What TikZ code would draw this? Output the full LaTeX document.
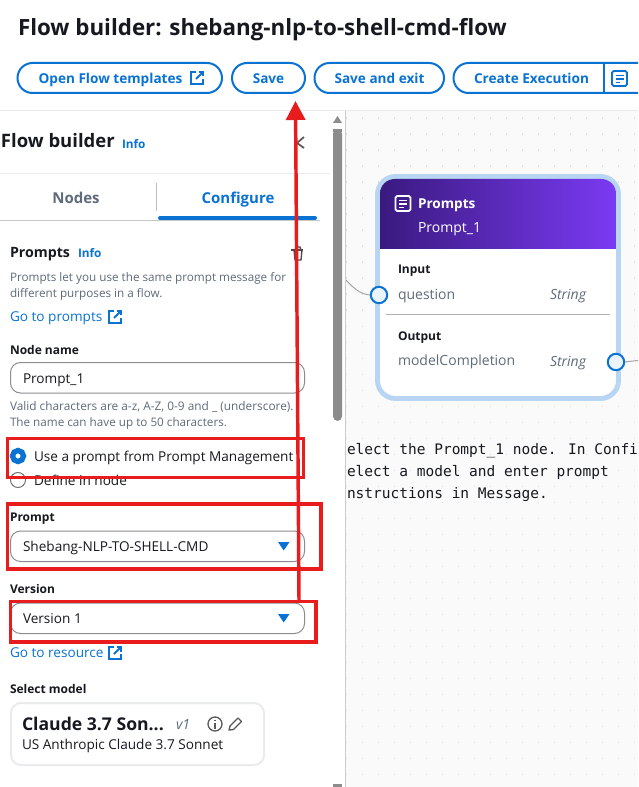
\documentclass[tikz,border=0pt]{standalone}
\usepackage{fontspec}
\setmainfont{Open Sans}
\newfontfamily\monof{DejaVu Sans Mono}
\usetikzlibrary{arrows.meta}
\newcommand\fpx[1]{\fontsize{\fpeval{#1*0.75}pt}{\fpeval{#1*0.9}pt}\selectfont}
\definecolor{awsblue}{HTML}{0972D3}
\definecolor{inkd}{HTML}{16191F}
\definecolor{inkg}{HTML}{5F6B7A}
\definecolor{redmark}{HTML}{E81C1C}
\definecolor{sepl}{HTML}{E9EBED}
\definecolor{fieldb}{HTML}{8C8C94}
\definecolor{nodeb}{HTML}{B8D6F3}
\definecolor{purl}{HTML}{3A1A80}
\definecolor{purr}{HTML}{7A3AF2}
\tikzset{
  txt/.style={anchor=base west,inner sep=0pt,outer sep=0pt,text=inkd},
  btnt/.style={anchor=base,inner sep=0pt,text=awsblue,font=\fpx{13.6}\bfseries},
  pill/.style={draw=awsblue,line width=1.5pt,fill=white,rounded corners=11.25pt},
  field/.style={draw=fieldb,line width=0.75pt,fill=white,rounded corners=7.5pt},
  redbox/.style={draw=redmark,line width=2.6pt},
  portc/.style={draw=awsblue,line width=1.5pt,fill=white!92!awsblue},
  link/.style={text=awsblue,font=\fpx{13.6}},
  info/.style={text=awsblue,font=\fpx{11.8}\bfseries},
  hint/.style={text=inkg,font=\fpx{11.7}},
  lbl/.style={font=\fpx{12}\bfseries},
  sel/.style={font=\fpx{13.6}},
}
\newcommand\exticon[2]{%
  \begin{scope}[shift={(#1,#2)},draw=awsblue,line width=1.5pt]
    \draw (6,1) -- (1,1) -- (1,13) -- (13,13) -- (13,8);
    \draw (6,8) -- (13,1);
    \draw (8.5,1) -- (13,1) -- (13,5.5);
  \end{scope}}
\newcommand\docicon[3]{%
  \begin{scope}[shift={(#1,#2)},draw=#3,line width=1.3pt]
    \draw[rounded corners=1.2pt] (0,0) rectangle (15,15);
    \draw (3.5,4.5) -- (11.5,4.5) (3.5,8) -- (11.5,8) (3.5,11.5) -- (8,11.5);
  \end{scope}}
\begin{document}
\begin{tikzpicture}[x=0.75pt,y=-0.75pt]
\useasboundingbox (0,0) rectangle (638,787);
\clip (0,0) rectangle (638,787);
\fill[white] (0,0) rectangle (638,787);
% canvas
\fill[black!2] (346,111) rectangle (638,787);
\foreach \i in {0,...,18}\foreach \j in {0,...,41}
  \fill[black!13] ({346+16*\i-0.5},{118+16*\j-0.5}) rectangle ++(1.2,1.2);
\draw[sepl,line width=0.9pt] (0,110.5) -- (638,110.5);
\draw[black!20,line width=0.75pt] (345.5,111) -- (345.5,787);
% title
\node[txt,font=\fpx{22.35}\bfseries] (title) at (18,36) {Flow builder: shebang-nlp-to-shell-cmd-flow};
% buttons
\draw[pill] (17.5,63) rectangle (222,93);
\node[btnt] (bOpen) at (110.5,84) {Open Flow templates};
\exticon{190}{71}
\draw[pill] (232,63) rectangle (305,93);
\node[btnt] (bSave) at (268.5,84) {Save};
\draw[pill] (314.5,63) rectangle (444,93);
\node[btnt] (bExit) at (379.5,84) {Save and exit};
\draw[pill] (453.5,63) rectangle (680,93);
\draw[draw=awsblue,line width=1.5pt] (604,63) -- (604,93);
\node[btnt] (bExec) at (531.5,84) {Create Execution};
\docicon{612}{71}{awsblue}
% scrollbar
\fill[black!45] (333,129) rectangle (342,132);
\fill[black!45,rounded corners=3.5pt] (333,129) rectangle (342,421);
\fill[black!45] (333,123) -- (342,123) -- (337.5,116) -- cycle;
\fill[black!45] (333,784) rectangle (342,787);
% panel head
\node[txt,font=\fpx{18.5}\bfseries] (pTitle) at (1,148) {Flow builder};
\node[txt,info] (pInfo) at (122,149) {Info};
\draw[black!65,line width=1.3pt] (304,137) -- (297,143) -- (304,148);
\draw[sepl,line width=0.9pt] (0,173.5) -- (330,173.5);
\node[anchor=base,inner sep=0pt,text=inkg,font=\fpx{15}\bfseries] (tNodes) at (76,204) {Nodes};
\node[anchor=base,inner sep=0pt,text=awsblue,font=\fpx{15}\bfseries] (tConf) at (238,204) {Configure};
\draw[black!25,line width=0.75pt] (156.5,183) -- (156.5,211);
\draw[black!22,line width=0.75pt] (0,220.5) -- (320,220.5);
\draw[awsblue,line width=3pt,line cap=round] (160,218) -- (315,218);
% prompts section
\node[txt,font=\fpx{14.2}\bfseries] (sPrompts) at (10,258) {Prompts};
\node[txt,info] (sInfo) at (78,258) {Info};
\begin{scope}[draw=black!70,line width=1pt]
  \draw (291,250) -- (303,250);
  \draw (294,250) -- (295,260) -- (301,260) -- (302,250);
  \draw (295,250) -- (296,247) -- (300,247) -- (301,250);
\end{scope}
\node[txt,hint] (d1) at (10,282) {Prompts let you use the same prompt message for};
\node[txt,hint] (d2) at (10,298) {different purposes in a flow.};
\node[txt,link] (goP) at (10,321) {Go to prompts};
\exticon{108}{310}
\node[txt,lbl] (nnL) at (10,354) {Node name};
\draw[field] (10.5,362.5) rectangle (304.5,393);
\node[txt,sel] (nnV) at (23,383) {Prompt\_1};
\node[txt,font=\fpx{11.85},text=inkg] (h1) at (10,410) {Valid characters are a-z, A-Z, 0-9 and \_ (underscore).};
\node[txt,hint] (h2) at (10,426) {The name can have up to 50 characters.};
\draw[awsblue,fill=white,line width=4pt] (18,456) circle (5.5);
\draw[black!55,fill=white,line width=0.75pt] (18,480) circle (7.5);
\node[txt,sel] (r1) at (34,461) {Use a prompt from Prompt Management};
\node[txt,sel] (r2) at (34,485) {Define in node};
\node[txt,lbl] (pL) at (10,521) {Prompt};
\draw[field] (10.5,531) rectangle (304.5,561.5);
\node[txt,sel] (pV) at (23,551) {Shebang-NLP-TO-SHELL-CMD};
\fill[awsblue] (278,542) -- (289.5,542) -- (283.7,550.5) -- cycle;
\node[txt,lbl] (vL) at (10,593) {Version};
\draw[field] (10.5,603) rectangle (304.5,633.5);
\node[txt,sel] (vV) at (23,623) {Version 1};
\fill[awsblue] (278,614) -- (289.5,614) -- (283.7,622.5) -- cycle;
\node[txt,link] (goR) at (10,657) {Go to resource};
\exticon{108}{646}
\node[txt,lbl] (smL) at (10,693) {Select model};
\draw[sepl,line width=1.5pt,fill=white,rounded corners=7.5pt] (11,703) rectangle (264,765);
\node[txt,font=\fpx{17.6}\bfseries] (mN) at (22,730) {Claude 3.7 Son...};
\node[txt,text=inkg,font=\fpx{14}\itshape] (mV) at (176,729) {v1};
\draw[black!65,line width=1pt] (215,724) circle (7);
\fill[black!65] (214.2,719.5) rectangle (215.8,721.3);
\fill[black!65] (214.2,722.7) rectangle (215.8,728.5);
\draw[black!65,line width=1pt,line join=round] (229,730) -- (230,726) -- (238,718) -- (241.5,721.5) -- (233.5,729.5) -- cycle;
\node[txt,font=\fpx{13.6}] (mD) at (22,749) {US Anthropic Claude 3.7 Sonnet};
% flow node
\draw[black!35,line width=0.75pt] (346,280) .. controls (355,290) and (362,295) .. (372,295);
\draw[black!35,line width=0.75pt] (624,362) -- (638,360.5);
\draw[nodeb,line width=3.7pt,fill=white,rounded corners=13.5pt] (377.5,176.5) rectangle (618.5,398.5);
\begin{scope}
\clip[rounded corners=11pt] (380,179) rectangle (616,280);
\shade[left color=purl,right color=purr] (380,179) rectangle (616,249);
\end{scope}
\docicon{395.5}{196}{white}
\node[txt,text=white,font=\fpx{13.6}\bfseries] (nT) at (418,209) {Prompts};
\node[txt,text=white,font=\fpx{14}] (nS) at (418,233) {Prompt\_1};
\node[txt,lbl] (nI) at (398,274) {Input};
\node[txt,text=inkg,font=\fpx{14}] (nQ) at (398,300) {question};
\node[txt,text=inkg,font=\fpx{14}\itshape] (nQs) at (550,300) {String};
\draw[black!30,line width=0.75pt] (386,314.5) -- (610,314.5);
\node[txt,lbl] (nO) at (398,340) {Output};
\node[txt,text=inkg,font=\fpx{14}] (nM) at (398,365) {modelCompletion};
\node[txt,text=inkg,font=\fpx{14}\itshape] (nMs) at (550,366) {String};
\draw[portc] (379,295) circle (8.2);
\draw[portc] (616,362) circle (8.2);
% note
\node[txt,font=\monof\fpx{14.5}] (t1) at (347,454) {elect the Prompt\_1 node. In Confi};
\node[txt,font=\monof\fpx{14.5}] (t2) at (347,476) {elect a model and enter prompt};
\node[txt,font=\monof\fpx{14.5}] (t3) at (347,498) {nstructions in Message.};
% red marks
\draw[redbox] (7.5,438.5) rectangle (303.5,477.5);
\draw[redbox] (7.5,504) rectangle (321,569);
\draw[redbox] (10.5,601.5) rectangle (316,642);
\coordinate (aS) at (299,600);
\coordinate (aE) at (295.5,101);
\draw[redmark,line width=2.6pt,-{Triangle[length=19*0.75pt,width=19*0.75pt]}] (aS) -- (aE);
\end{tikzpicture}
\end{document}
